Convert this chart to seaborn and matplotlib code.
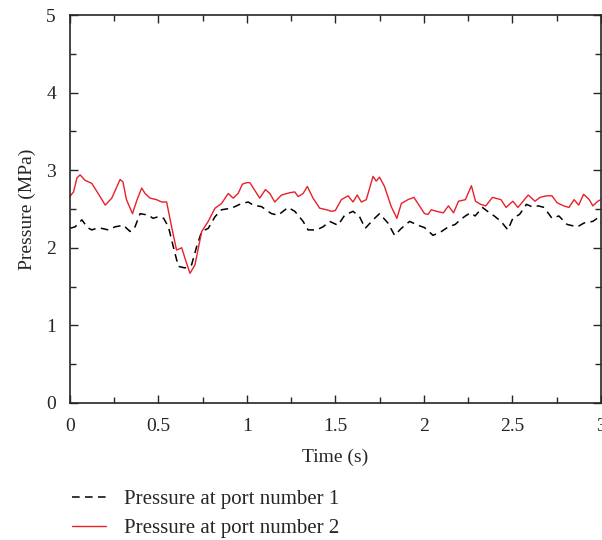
import pandas as pd
import matplotlib
matplotlib.use("Agg")
import matplotlib.pyplot as plt
import seaborn as sns
from matplotlib.ticker import MultipleLocator

# pressure at port number 1 (dashed black)
t_port1 = [0.0, 0.03, 0.068, 0.10, 0.124, 0.15, 0.18, 0.218, 0.256, 0.303, 0.34, 0.365,
           0.397, 0.444, 0.47, 0.50, 0.53, 0.557, 0.585, 0.613, 0.65, 0.688, 0.716, 0.745,
           0.782, 0.82, 0.857, 0.913, 0.97, 1.008, 1.036, 1.083, 1.139, 1.177, 1.233, 1.271,
           1.318, 1.346, 1.393, 1.431, 1.468, 1.515, 1.553, 1.6, 1.637, 1.669, 1.713, 1.75,
           1.797, 1.835, 1.873, 1.92, 1.967, 2.004, 2.052, 2.1, 2.139, 2.177, 2.206, 2.235,
           2.263, 2.29, 2.331, 2.36, 2.398, 2.436, 2.475, 2.503, 2.541, 2.58, 2.61, 2.647,
           2.68, 2.724, 2.763, 2.81, 2.868, 2.906, 2.955, 2.98, 3.0]
p_port1 = [2.25, 2.27, 2.36, 2.26, 2.23, 2.25, 2.25, 2.23, 2.27, 2.29, 2.21, 2.25,
           2.44, 2.42, 2.38, 2.40, 2.38, 2.27, 2.01, 1.76, 1.74, 1.78, 2.01, 2.21,
           2.25, 2.40, 2.49, 2.51, 2.57, 2.59, 2.55, 2.53, 2.44, 2.42, 2.52, 2.47,
           2.34, 2.23, 2.23, 2.27, 2.34, 2.29, 2.42, 2.47, 2.40, 2.25, 2.36, 2.44,
           2.32, 2.16, 2.25, 2.34, 2.29, 2.26, 2.16, 2.21, 2.27, 2.30, 2.36, 2.41,
           2.45, 2.41, 2.52, 2.47, 2.41, 2.34, 2.23, 2.38, 2.43, 2.56, 2.53, 2.54,
           2.52, 2.38, 2.41, 2.30, 2.27, 2.32, 2.34, 2.38, 2.32]

# pressure at port number 2 (solid red)
t_port2 = [0.0, 0.021, 0.04, 0.058, 0.086, 0.124, 0.16, 0.2, 0.237, 0.284, 0.30, 0.32,
           0.354, 0.38, 0.406, 0.425, 0.453, 0.49, 0.519, 0.547, 0.575, 0.603, 0.632, 0.654,
           0.679, 0.707, 0.745, 0.782, 0.82, 0.857, 0.895, 0.923, 0.951, 0.975, 1.0, 1.017,
           1.045, 1.073, 1.105, 1.13, 1.158, 1.196, 1.243, 1.271, 1.29, 1.318, 1.342, 1.374,
           1.412, 1.45, 1.478, 1.50, 1.534, 1.572, 1.6, 1.624, 1.647, 1.675, 1.713, 1.731,
           1.75, 1.778, 1.816, 1.848, 1.873, 1.91, 1.944, 1.967, 2.004, 2.024, 2.042, 2.072,
           2.11, 2.139, 2.168, 2.196, 2.235, 2.269, 2.292, 2.321, 2.35, 2.388, 2.436, 2.465,
           2.503, 2.532, 2.561, 2.59, 2.628, 2.657, 2.695, 2.724, 2.753, 2.791, 2.82, 2.849,
           2.875, 2.903, 2.935, 2.955, 2.983, 3.0]
p_port2 = [2.66, 2.72, 2.90, 2.94, 2.87, 2.83, 2.70, 2.55, 2.64, 2.88, 2.85, 2.62,
           2.44, 2.62, 2.77, 2.70, 2.64, 2.62, 2.59, 2.59, 2.27, 1.97, 2.00, 1.84,
           1.67, 1.78, 2.21, 2.34, 2.51, 2.57, 2.70, 2.64, 2.70, 2.82, 2.84, 2.84,
           2.74, 2.64, 2.75, 2.70, 2.59, 2.68, 2.71, 2.72, 2.66, 2.70, 2.79, 2.64,
           2.51, 2.49, 2.47, 2.48, 2.62, 2.67, 2.59, 2.68, 2.59, 2.62, 2.92, 2.86,
           2.91, 2.79, 2.53, 2.38, 2.57, 2.62, 2.65, 2.57, 2.44, 2.43, 2.49, 2.47,
           2.45, 2.54, 2.45, 2.60, 2.62, 2.80, 2.60, 2.56, 2.54, 2.65, 2.62, 2.52,
           2.60, 2.52, 2.60, 2.68, 2.60, 2.65, 2.67, 2.67, 2.58, 2.54, 2.52, 2.62,
           2.55, 2.69, 2.62, 2.54, 2.60, 2.62]

x_ticks = [0, 0.5, 1, 1.5, 2, 2.5, 3]
x_ticklabels = ["0", "0.5", "1", "1.5", "2", "2.5", "3"]

df1 = pd.DataFrame({"time": t_port1, "pressure": p_port1})
df2 = pd.DataFrame({"time": t_port2, "pressure": p_port2})

sns.set_style("ticks")
plt.rcParams["font.family"] = ["Liberation Serif", "DejaVu Serif"]
plt.rcParams["font.size"] = 14

fig = plt.figure(figsize=(6.02, 5.40), dpi=100)
ax = fig.add_axes([0.116, 0.254, 0.882, 0.718])

sns.lineplot(data=df1, x="time", y="pressure", ax=ax, color="black", lw=1.1,
             linestyle=(0, (5, 3.5)), sort=False, estimator=None,
             label="Pressure at port number 1", legend=False)
sns.lineplot(data=df2, x="time", y="pressure", ax=ax, color="#e8202a", lw=1.0,
             sort=False, estimator=None,
             label="Pressure at port number 2", legend=False)

ax.set_xlim(0, 3)
ax.set_ylim(0, 5)
ax.set_xticks(x_ticks)
ax.set_xticklabels(x_ticklabels)
ax.xaxis.set_minor_locator(MultipleLocator(0.25))
ax.yaxis.set_major_locator(MultipleLocator(1))
ax.yaxis.set_minor_locator(MultipleLocator(0.5))
ax.tick_params(which="both", direction="in", top=True, right=True, labelsize=14)
ax.tick_params(axis="x", which="major", pad=11)
ax.tick_params(axis="y", which="major", pad=10)
ax.tick_params(which="major", length=6, width=1)
ax.tick_params(which="minor", length=4, width=1)
for s in ax.spines.values():
    s.set_linewidth(1.2)

ax.set_xlabel("Time (s)", fontsize=14, labelpad=10)
ax.set_ylabel("Pressure (MPa)", fontsize=14, labelpad=7)

handles, labels = ax.get_legend_handles_labels()
fig.legend(handles, labels, loc="upper left", bbox_to_anchor=(0.12, 0.093),
           frameon=False, fontsize=15, handlelength=1.6, handletextpad=0.87,
           labelspacing=0.45, borderaxespad=0, borderpad=0)

fig.savefig("out.png", dpi=100)
